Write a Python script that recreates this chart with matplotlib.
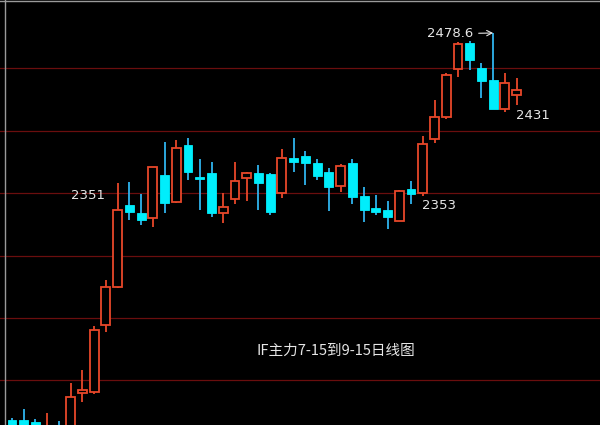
import matplotlib
matplotlib.use('Agg')
import matplotlib.pyplot as plt
from matplotlib.patches import Rectangle
from matplotlib.lines import Line2D
import numpy as np

# Daily OHLC of IF main contract
opens = [2174.8, 2174.8, 2173.2, 2159.1, 2168.5, 2165.4, 2196.0, 2196.8, 2249.4, 2279.2,
         2343.6, 2337.3, 2333.4, 2367.1, 2345.9, 2390.7, 2365.6, 2368.7, 2337.3, 2348.3,
         2364.8, 2368.7, 2367.9, 2353.0, 2380.5, 2382.0, 2376.5, 2369.5, 2358.5, 2376.5,
         2350.6, 2341.2, 2339.6, 2331.0, 2356.1, 2353.0, 2395.4, 2412.7, 2450.3, 2470.7,
         2451.1, 2441.7, 2418.9, 2429.9]
highs = [2176.4, 2183.4, 2175.6, 2180.3, 2174.0, 2203.8, 2214.0, 2248.6, 2284.7, 2360.8,
         2361.6, 2352.2, 2373.4, 2393.0, 2394.6, 2396.2, 2379.7, 2377.3, 2353.0, 2377.3,
         2369.5, 2375.0, 2368.7, 2387.5, 2396.2, 2386.0, 2379.7, 2372.6, 2375.8, 2379.7,
         2357.7, 2351.4, 2346.7, 2355.3, 2362.4, 2397.7, 2426.0, 2447.2, 2471.5, 2472.3,
         2455.0, 2478.6, 2447.2, 2443.3]
lows = [2165.4, 2165.4, 2165.4, 2157.0, 2160.0, 2162.2, 2188.9, 2195.2, 2243.9, 2278.4,
        2331.8, 2327.9, 2326.3, 2337.3, 2345.1, 2363.2, 2339.6, 2334.2, 2329.4, 2344.4,
        2346.7, 2339.6, 2335.7, 2349.1, 2369.5, 2359.3, 2363.2, 2338.9, 2353.8, 2344.4,
        2330.2, 2335.7, 2324.7, 2331.0, 2344.4, 2350.6, 2392.2, 2411.1, 2444.1, 2449.5,
        2427.6, 2418.9, 2416.6, 2422.1]
closes = [2168.5, 2168.5, 2168.5, 2168.5, 2163.0, 2192.9, 2198.3, 2245.4, 2279.2, 2339.6,
          2338.1, 2331.8, 2373.4, 2345.1, 2388.3, 2369.5, 2364.0, 2337.3, 2342.0, 2362.4,
          2368.7, 2360.8, 2338.1, 2380.5, 2377.3, 2376.5, 2366.3, 2357.7, 2374.2, 2349.9,
          2339.6, 2338.1, 2334.2, 2354.6, 2352.2, 2391.5, 2412.7, 2445.6, 2470.0, 2457.4,
          2440.9, 2418.9, 2439.3, 2433.8]
grid_levels = [2451.1, 2401.7, 2353.0, 2303.5, 2254.9, 2206.2]
caption = "IF主力7-15到9-15日线图"
labels = ["2351", "2353", "2431", "2478.6"]

RED = '#e8472a'
CYAN_BODY = '#00eefc'
CYAN_WICK = '#2fb4ee'
TXT = '#e6e6e6'

fig = plt.figure(figsize=(6, 4.25), dpi=100, facecolor='black')
ax = fig.add_axes([0, 0, 1, 1])
ax.set_facecolor('black')
ax.set_axis_off()
n = len(opens)
ax.set_xlim(-1.02, 50.1)
ax.set_ylim(2170.9, 2504.5)

for g in grid_levels:
    ax.axhline(g, color='#6a0e0e', lw=0.9, zorder=1)

w = 0.76
for i in range(n):
    o, h, l, c = opens[i], highs[i], lows[i], closes[i]
    if c >= o:
        ax.vlines(i, c, h, color=RED, lw=1.3, zorder=2)
        ax.vlines(i, l, o, color=RED, lw=1.3, zorder=2)
        ax.add_patch(Rectangle((i - w / 2, o), w, max(c - o, 0.8), facecolor='black',
                               edgecolor=RED, lw=1.3, zorder=3))
    else:
        ax.vlines(i, l, h, color=CYAN_WICK, lw=1.3, zorder=2)
        ax.add_patch(Rectangle((i - w / 2, c), w, o - c, facecolor=CYAN_BODY,
                               edgecolor=CYAN_BODY, lw=0.6, zorder=3))

# labels
ax.text(9 - 3.95, 2351, labels[0], color=TXT, fontsize=9.5, ha='left', va='center',
        family='DejaVu Sans', zorder=5)
ax.text(35 - 0.05, lows[35] - 7.5, labels[1], color=TXT, fontsize=9.5, ha='left', va='center',
        family='DejaVu Sans', zorder=5)
ax.text(43 - 0.05, lows[43] - 8.0, labels[2], color=TXT, fontsize=9.5, ha='left', va='center',
        family='DejaVu Sans', zorder=5)
ax.annotate(labels[3], xy=(41, highs[41]), xytext=(41 - 5.65, highs[41] - 0.6),
            color=TXT, fontsize=9.5, ha='left', va='center', family='DejaVu Sans', zorder=5,
            arrowprops=dict(arrowstyle='->', color=TXT, lw=0.8, shrinkA=2, shrinkB=0))

ax.text(20.8, 2229, caption, color=TXT, fontsize=10.5, ha='left', va='center',
        family=['Noto Sans CJK SC', 'DejaVu Sans'], zorder=5)

# frame lines (screenshot border)
fig.add_artist(Line2D([4.5 / 600, 4.5 / 600], [0, 1], color='#9a9a9a', lw=1.0))
fig.add_artist(Line2D([0, 1], [1 - 1 / 425, 1 - 1 / 425], color='#9a9a9a', lw=1.0))

fig.savefig('out.png', dpi=100, facecolor='black')
